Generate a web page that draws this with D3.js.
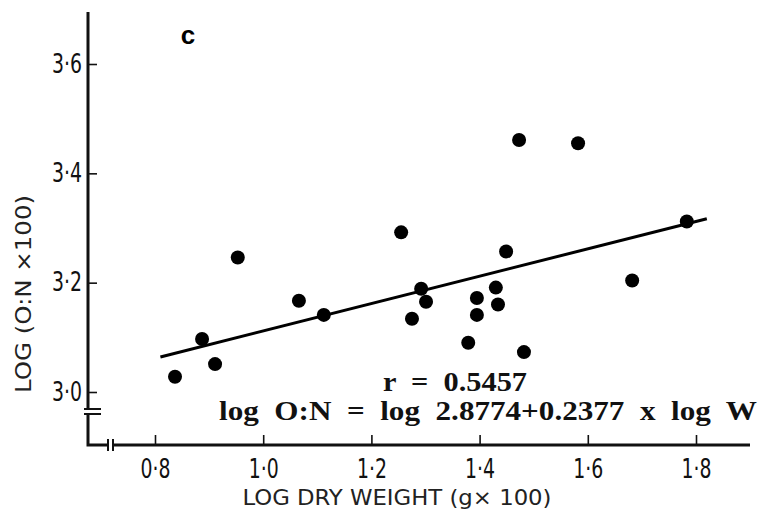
<!DOCTYPE html>
<html>
<head>
<meta charset="utf-8">
<script src="https://cdn.jsdelivr.net/npm/d3@7"></script>
<style>
  body { margin: 0; background: #fff; }
  svg { display: block; }
  .axis text { font-family: "DejaVu Sans Condensed", "DejaVu Sans", sans-serif; font-size: 26px; fill: #111; }
  .title { font-family: "DejaVu Sans Condensed", "DejaVu Sans", sans-serif; fill: #222; }
  .eq { font-family: "Liberation Serif", "DejaVu Serif", serif; font-weight: bold; font-size: 28px; white-space: pre; fill: #111; }
</style>
</head>
<body>
<div id="container"></div>
<script>
/* DATA */
const logWeight = [0.837, 0.887, 0.911, 0.953, 1.066, 1.112, 1.255, 1.275, 1.292, 1.301, 1.379,
                   1.395, 1.395, 1.430, 1.434, 1.449, 1.473, 1.482, 1.582, 1.682, 1.783];
const logON     = [3.028, 3.097, 3.051, 3.246, 3.167, 3.141, 3.292, 3.134, 3.189, 3.165, 3.090,
                   3.172, 3.141, 3.191, 3.160, 3.257, 3.461, 3.073, 3.455, 3.204, 3.312];
const fitX = [0.81, 1.82];
const fitY = [3.064, 3.317];
const xTicks = [0.8, 1.0, 1.2, 1.4, 1.6, 1.8];
const yTicks = [3.0, 3.2, 3.4, 3.6];
const panelLabel = "c";
const rText = "r  =  0.5457";
const eqText = "log  O:N  =  log  2.8774+0.2377  x  log  W";
const xTitle = "LOG DRY WEIGHT (g× 100)";
const yTitle = "LOG  (O:N ×100)";

/* CONSTANTS */
const width = 762,
      height = 518,
      axisX = 88,
      axisY = 445,
      axisTop = 12,
      axisRight = 750,
      tickLabelWidth = 30;

const points = logWeight.map((w, i) => ({ x: w, y: logON[i] }));
const fit = fitX.map((v, i) => [v, fitY[i]]);

/* SCALES */
const xScale = d3.scaleLinear().domain([0.8, 1.8]).range([155, 696]);
const yScale = d3.scaleLinear().domain([3.0, 3.6]).range([392, 64]);
const fmt = d => d3.format(".1f")(d).replace(".", "·");

const svg = d3.select("#container")
  .append("svg")
  .attr("width", width)
  .attr("height", height);

svg.append("rect").attr("width", width).attr("height", height).attr("fill", "#fff");

// + AXES (ticks point inward, domain drawn by hand for the breaks)
const gx = svg.append("g")
  .attr("class", "axis")
  .attr("transform", `translate(0,${axisY})`)
  .call(d3.axisBottom(xScale).tickValues(xTicks).tickSizeInner(-10).tickSizeOuter(0).tickPadding(15).tickFormat(fmt));
gx.select(".domain").remove();

const gy = svg.append("g")
  .attr("class", "axis")
  .attr("transform", `translate(${axisX},0)`)
  .call(d3.axisLeft(yScale).tickValues(yTicks).tickSizeInner(-9).tickSizeOuter(0).tickPadding(6).tickFormat(fmt));
gy.select(".domain").remove();

svg.selectAll(".axis .tick line").attr("stroke", "#111").attr("stroke-width", 1.6);
svg.selectAll(".axis .tick text")
  .attr("textLength", tickLabelWidth)
  .attr("lengthAdjust", "spacingAndGlyphs");

// axis lines with break marks
const axisPath = d3.path();
axisPath.moveTo(axisX, axisTop);
axisPath.lineTo(axisX, 408);
axisPath.moveTo(axisX, 415);
axisPath.lineTo(axisX, axisY);
axisPath.lineTo(107, axisY);
axisPath.moveTo(114, axisY);
axisPath.lineTo(axisRight, axisY);

svg.append("path")
  .attr("d", axisPath.toString())
  .attr("fill", "none")
  .attr("stroke", "#111")
  .attr("stroke-width", 3);

const breaks = d3.path();
breaks.moveTo(84, 409); breaks.lineTo(101, 409);
breaks.moveTo(84, 414); breaks.lineTo(101, 414);
breaks.moveTo(108, 439); breaks.lineTo(108, 451);
breaks.moveTo(113, 439); breaks.lineTo(113, 451);
svg.append("path")
  .attr("d", breaks.toString())
  .attr("stroke", "#111")
  .attr("stroke-width", 2);

// + FIT LINE
svg.append("path")
  .datum(fit)
  .attr("d", d3.line().x(d => xScale(d[0])).y(d => yScale(d[1])))
  .attr("fill", "none")
  .attr("stroke", "#000")
  .attr("stroke-width", 3);

// + POINTS
svg.selectAll("circle.pt")
  .data(points)
  .join("circle")
  .attr("class", "pt")
  .attr("cx", d => xScale(d.x))
  .attr("cy", d => yScale(d.y))
  .attr("r", 7)
  .attr("fill", "#000");

// + TEXTS
svg.append("text")
  .attr("x", 188).attr("y", 44)
  .attr("text-anchor", "middle")
  .attr("font-family", "Liberation Sans, Arial, sans-serif")
  .attr("font-weight", "bold")
  .attr("font-size", 26)
  .text(panelLabel);

svg.append("text")
  .attr("class", "eq")
  .attr("x", 383).attr("y", 391)
  .attr("textLength", 144)
  .attr("lengthAdjust", "spacingAndGlyphs")
  .text(rText);

svg.append("text")
  .attr("class", "eq")
  .attr("x", 219).attr("y", 420)
  .attr("textLength", 538)
  .attr("lengthAdjust", "spacingAndGlyphs")
  .text(eqText);

svg.append("text")
  .attr("class", "title")
  .attr("x", 397).attr("y", 505)
  .attr("text-anchor", "middle")
  .attr("font-size", 22)
  .attr("textLength", 309)
  .attr("lengthAdjust", "spacingAndGlyphs")
  .text(xTitle);

svg.append("text")
  .attr("class", "title")
  .attr("transform", "translate(31,294) rotate(-90)")
  .attr("text-anchor", "middle")
  .attr("font-size", 22)
  .attr("textLength", 198)
  .attr("lengthAdjust", "spacingAndGlyphs")
  .text(yTitle);
</script>
</body>
</html>
